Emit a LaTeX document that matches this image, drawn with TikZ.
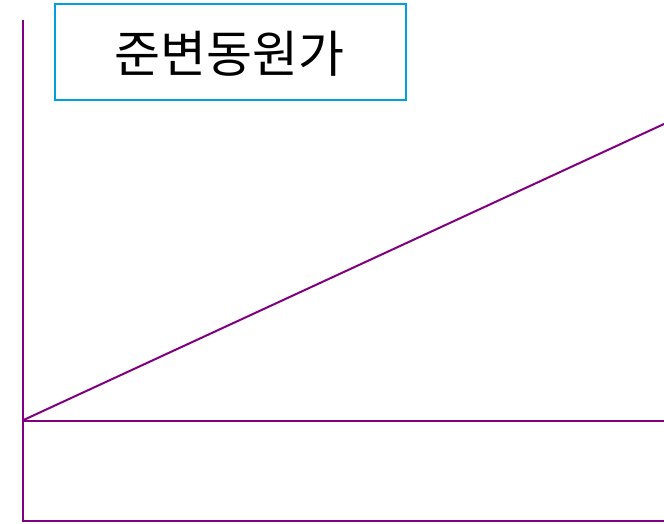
\documentclass[tikz,border=0pt]{standalone}
\usepackage{fontspec}
\newfontfamily\cjk{Noto Sans CJK KR}
\definecolor{linep}{RGB}{128,0,128}
\definecolor{boxc}{RGB}{0,160,220}
\begin{document}
\begin{tikzpicture}[x=1pt,y=-1pt,
  axis/.style={draw=linep,line width=2pt},
  titlebox/.style={draw=boxc,line width=1.6pt,minimum width=351pt,minimum height=96pt,inner sep=0pt,font=\cjk\fontsize{50}{54}\selectfont}]
\useasboundingbox (0,0) rectangle (664,524);
\coordinate (top) at (22.5,20);
\coordinate (orig) at (22.5,520.5);
\coordinate (fix) at (22.5,420.5);
\coordinate (fixend) at (664,420.5);
\coordinate (botend) at (664,520.5);
\coordinate (diagend) at (664,124);
\node[titlebox] (title) at (230.5,52) {};
\node[font=\cjk\fontsize{50}{54}\selectfont,inner sep=0pt] (titletext) at (229.5,53.5) {준변동원가};
\draw[axis] (top) -- (orig) -- (botend);
\draw[axis] (fix) -- (fixend);
\draw[axis] (fix) -- (diagend);
\end{tikzpicture}
\end{document}
